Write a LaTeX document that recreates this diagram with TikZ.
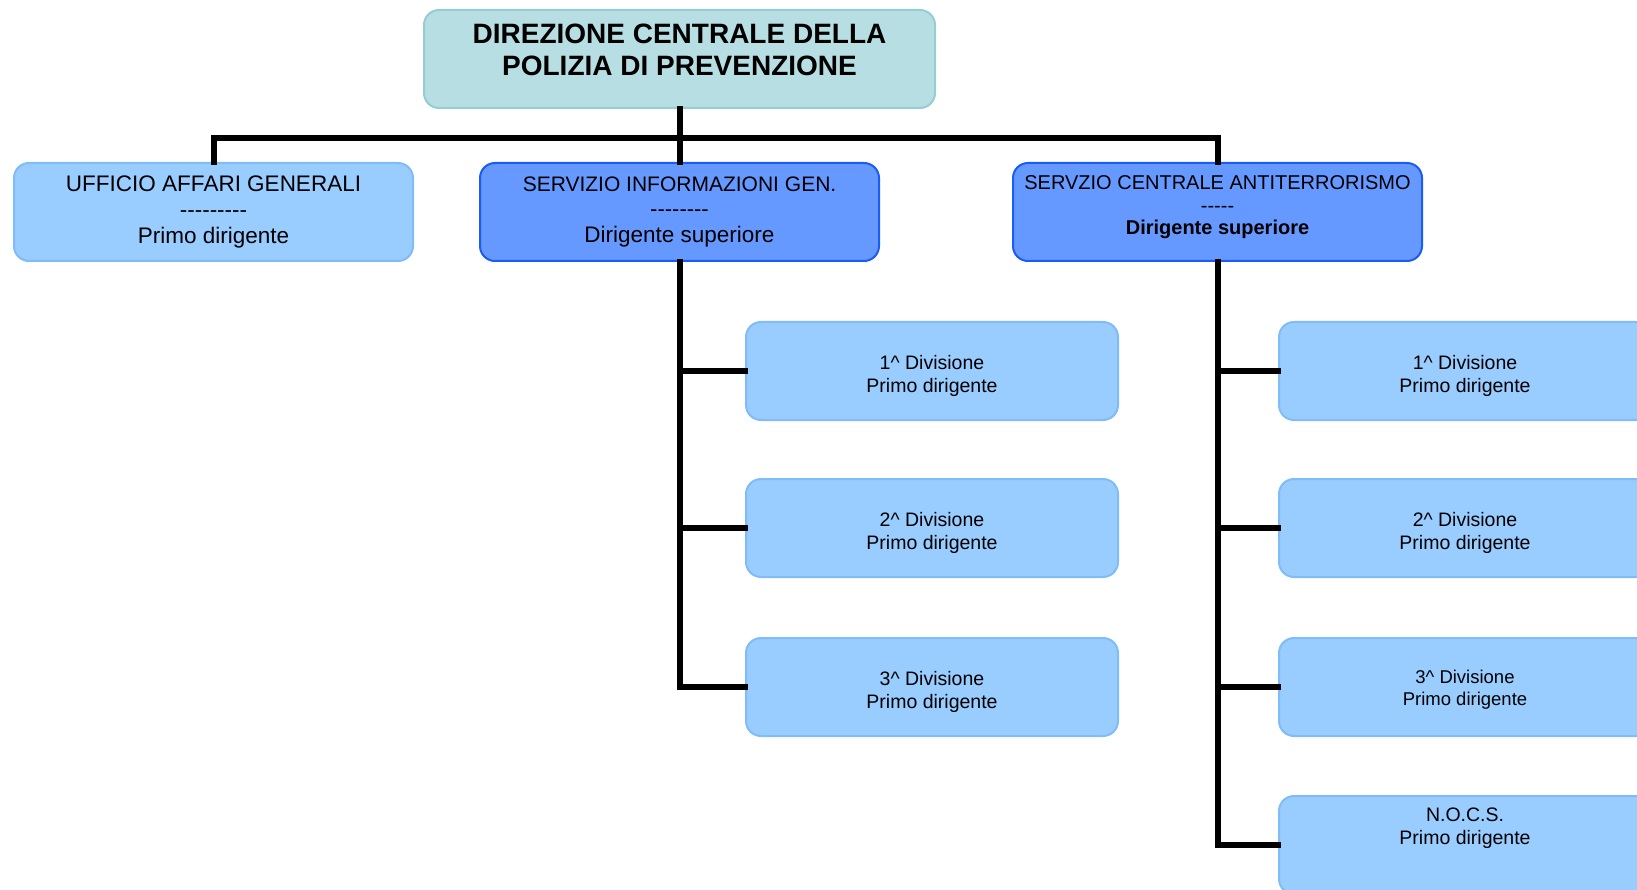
\documentclass[tikz,border=0pt]{standalone}
\usepackage{fontspec}
\setmainfont{Liberation Sans}
\newcommand\hyk{-\kern0pt}
\definecolor{topfill}{HTML}{B7DFE3}
\definecolor{topline}{HTML}{96CDD3}
\definecolor{lfill}{HTML}{99CCFF}
\definecolor{lline}{HTML}{80BCF8}
\definecolor{dfill}{HTML}{6699FF}
\definecolor{dline}{HTML}{1A5CF5}
\begin{document}
\begin{tikzpicture}[x=1pt,y=-1pt,
  boxbase/.style={rounded corners=15pt, line width=2pt, inner sep=0pt, align=center, minimum height=98pt},
  topbox/.style={boxbase, draw=topline, fill=topfill, minimum width=511pt},
  lvbox/.style={boxbase, draw=lline, fill=lfill, minimum width=399pt},
  dkbox/.style={boxbase, draw=dline, fill=dfill},
  divbox/.style={boxbase, draw=lline, fill=lfill, minimum width=372pt},
  divtext/.style={font=\fontsize{19.5}{23}\selectfont, align=center},
  conn/.style={line width=6pt, black, line join=miter, line cap=rect}
]
\useasboundingbox (0,0) rectangle (1637,890);
\clip (0,0) rectangle (1637,890);

% boxes
\node[topbox] (top) at (679.5,59) {};
\node[font=\fontsize{28}{31.5}\selectfont\bfseries, align=center] (toptitle) at (679.5,50)
  {DIREZIONE CENTRALE DELLA\\POLIZIA DI PREVENZIONE};

\node[lvbox, font=\fontsize{22.5}{26}\selectfont] (uag) at (213.5,212)
  {UFFICIO AFFARI GENERALI\\\hyk\hyk\hyk\hyk\hyk\hyk\hyk\hyk\hyk\\Primo dirigente};
\node[dkbox, minimum width=399pt, font=\fontsize{22}{25.5}\selectfont] (sig) at (679.5,212)
  {{\fontsize{21}{25.5}\selectfont SERVIZIO INFORMAZIONI GEN.}\\\hyk\hyk\hyk\hyk\hyk\hyk\hyk\hyk\\{\fontsize{22.5}{25.5}\selectfont Dirigente superiore}};
\node[dkbox, minimum width=409pt, font=\fontsize{20}{23}\selectfont] (sca) at (1217.5,212)
  {SERVZIO CENTRALE ANTITERRORISMO\\\hyk\hyk\hyk\hyk\hyk\\[-1pt]\textbf{Dirigente superiore}\\[-9pt]\mbox{}};

\node[divbox, divtext] (l1) at (932,371) {\rule{0pt}{24.5pt}1\^{} Divisione\\Primo dirigente};
\node[divbox, divtext] (l2) at (932,528) {\rule{0pt}{24.5pt}2\^{} Divisione\\Primo dirigente};
\node[divbox, divtext] (l3) at (932,687) {\rule{0pt}{23.5pt}3\^{} Divisione\\Primo dirigente};

\node[divbox, divtext] (r1) at (1465,371) {\rule{0pt}{24.5pt}1\^{} Divisione\\Primo dirigente};
\node[divbox, divtext] (r2) at (1465,528) {\rule{0pt}{24.5pt}2\^{} Divisione\\Primo dirigente};
\node[divbox, font=\fontsize{18.5}{22}\selectfont] (r3) at (1465,687) {\rule{0pt}{19.5pt}3\^{} Divisione\\Primo dirigente};
\node[divbox] (r4) at (1465,845) {};
\node[divtext] (r4text) at (1465,828) {N.O.C.S.\\Primo dirigente};

% connectors
\coordinate (busy) at (0,138);
\draw[conn] (top.south) -- (top.south |- busy);
\draw[conn] (uag.north) -- (uag.north |- busy) -- (sca.north |- busy) -- (sca.north);
\draw[conn] (sig.north |- busy) -- (sig.north);

\draw[conn] (sig.south) |- (l3.west);
\draw[conn] (sig.south |- l1.west) -- (l1.west);
\draw[conn] (sig.south |- l2.west) -- (l2.west);

\draw[conn] (sca.south) |- (r4.west);
\draw[conn] (sca.south |- r1.west) -- (r1.west);
\draw[conn] (sca.south |- r2.west) -- (r2.west);
\draw[conn] (sca.south |- r3.west) -- (r3.west);
\end{tikzpicture}
\end{document}
